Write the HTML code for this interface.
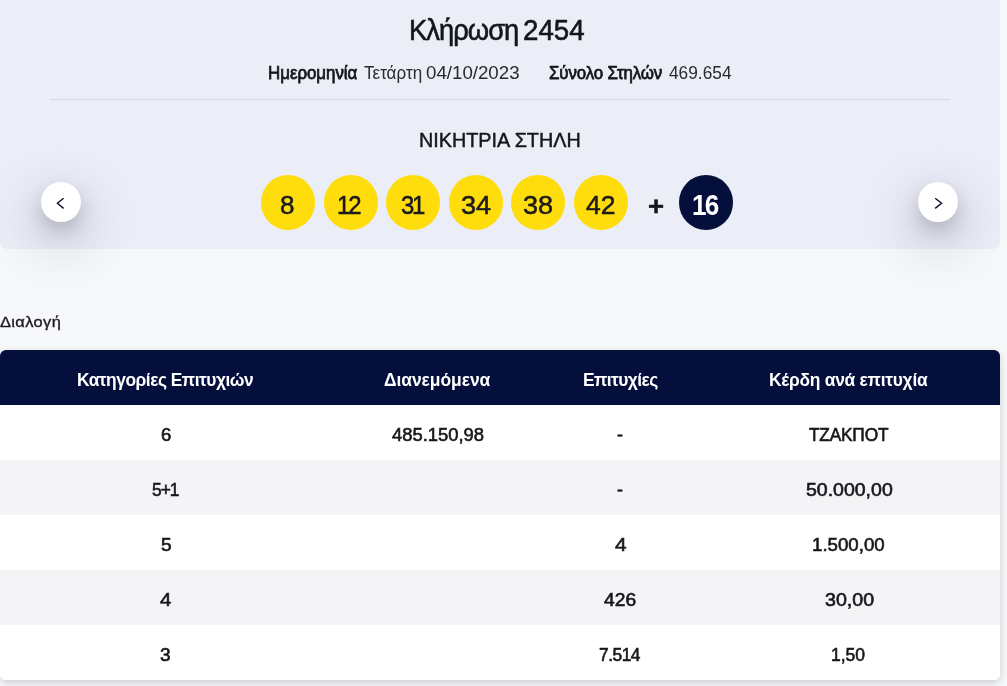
<!DOCTYPE html>
<html lang="el">
<head>
<meta charset="utf-8">
<title>Κλήρωση 2454</title>
<style>
*{box-sizing:border-box;margin:0;padding:0}
html,body{width:1007px;height:686px;overflow:hidden}
body{background:#f7f8fa;font-family:"Liberation Sans",sans-serif;color:#1b1b1f;position:relative}
.t{position:absolute;white-space:pre;transform-origin:0 0;font-weight:400;display:block}
.card{position:absolute;left:0;top:-12px;width:1000px;height:261px;background:#ebeef7;border-radius:6px}
.hr{position:absolute;left:50px;width:900px;top:99px;height:1px;background:#d3d7e2}
.ball{position:absolute;top:175.2px;width:54px;height:54.4px;border-radius:50%;background:#ffdc0c}
.ball.dark{background:#040f3b;left:679px}
.plus{position:absolute;left:648.7px;top:199px;width:14.6px;height:14.4px}
.plus:before{content:"";position:absolute;left:0;top:5.8px;width:14.6px;height:2.8px;background:#15151a}
.plus:after{content:"";position:absolute;left:5.9px;top:0;width:2.8px;height:14.4px;background:#15151a}
.nav{position:absolute;top:182px;width:40px;height:40px;border-radius:50%;background:#fff;box-shadow:0 10px 18px rgba(14,18,44,.18), 0 18px 56px rgba(14,18,44,.32)}
.nav svg{position:absolute;left:0;top:0}
.tbl{position:absolute;left:0;top:350px;width:1000px;height:330px;border-radius:6px;overflow:hidden;background:#fff}
.tblsh{position:absolute;left:0;top:350px;width:1000px;height:330px;border-radius:6px;box-shadow:0 3px 9px rgba(0,0,0,.17)}
.row{height:55px;width:1000px;background:#fff}
.row.alt{background:#f4f4f6}
.row.head{background:#040f3b}
</style>
</head>
<body>
<div class="card"></div>
<h1><span class="t" style="left:408.86px;top:16.4px;font-size:29px;line-height:29px;color:#15151a;transform:scaleX(0.9406);letter-spacing:-0.99px;-webkit-text-stroke:0.6px #15151a">Κλήρωση</span>
<span class="t" style="left:523.37px;top:16.4px;font-size:29px;line-height:29px;color:#15151a;transform:scaleX(0.9543);-webkit-text-stroke:0.6px #15151a">2454</span></h1>
<div class="meta"><span class="t" style="left:267.72px;top:64.0px;font-size:18.0px;line-height:18.0px;color:#15151a;transform:scaleX(0.9382);letter-spacing:-0.02px;-webkit-text-stroke:0.75px #15151a">Ημερομηνία</span>
<span class="t" style="left:363.9px;top:64.0px;font-size:18.0px;line-height:18.0px;color:#2a2a30;transform:scaleX(0.9466)">Τετάρτη</span>
<span class="t" style="left:426.06px;top:64.13px;font-size:18.0px;line-height:18.0px;color:#2a2a30;transform:scaleX(1.0386)">04/10/2023</span>
<span class="t" style="left:548.84px;top:64.0px;font-size:18.0px;line-height:18.0px;color:#15151a;transform:scaleX(0.9363);letter-spacing:-0.13px;-webkit-text-stroke:0.75px #15151a">Σύνολο Στηλών</span>
<span class="t" style="left:668.6px;top:64.13px;font-size:18.0px;line-height:18.0px;color:#2a2a30;transform:scaleX(0.9608)">469.654</span></div>
<div class="hr"></div>
<h2><span class="t" style="left:418.87px;top:129.2px;font-size:21.0px;line-height:21.0px;color:#15151a;transform:scaleX(0.942);-webkit-text-stroke:0.45px #15151a">ΝΙΚΗΤΡΙΑ ΣΤΗΛΗ</span></h2>
<div class="balls">
<div class="ball" style="left:261.2px"></div><div class="ball" style="left:323.75px"></div><div class="ball" style="left:386.3px"></div><div class="ball" style="left:448.85px"></div><div class="ball" style="left:511.4px"></div><div class="ball" style="left:573.95px"></div>
<div class="ball dark"></div>
<span class="t" style="left:280.34px;top:191.83px;font-size:26px;line-height:26px;color:#1b1b1f;transform:scaleX(1.0025);-webkit-text-stroke:0.55px #1b1b1f">8</span>
<span class="t" style="left:337.18px;top:191.8px;font-size:26px;line-height:26px;color:#1b1b1f;transform:scaleX(0.92);letter-spacing:-2.2px;-webkit-text-stroke:0.55px #1b1b1f">12</span>
<span class="t" style="left:400.63px;top:191.82px;font-size:26px;line-height:26px;color:#1b1b1f;transform:scaleX(0.92);letter-spacing:-2.6px;-webkit-text-stroke:0.55px #1b1b1f">31</span>
<span class="t" style="left:460.61px;top:191.82px;font-size:26px;line-height:26px;color:#1b1b1f;transform:scaleX(1.0417);-webkit-text-stroke:0.55px #1b1b1f">34</span>
<span class="t" style="left:523.21px;top:191.82px;font-size:26px;line-height:26px;color:#1b1b1f;transform:scaleX(1.0412);-webkit-text-stroke:0.55px #1b1b1f">38</span>
<span class="t" style="left:586.07px;top:191.8px;font-size:26px;line-height:26px;color:#1b1b1f;transform:scaleX(1.0178);-webkit-text-stroke:0.55px #1b1b1f">42</span>
<span class="t" style="left:647.61px;top:192.5px;font-size:26px;line-height:26px;color:#15151a;transform:scaleX(1.0585);font-weight:700;-webkit-text-stroke:0.5px #15151a">+</span>
<span class="t" style="left:692.35px;top:190.83px;font-size:29px;line-height:29px;color:#ffffff;transform:scaleX(0.9);font-weight:700;letter-spacing:-2.0px">16</span>
</div>
<div class="nav" style="left:41px"><svg width="40" height="40" viewBox="0 0 40 40"><path d="M22.6 16.2 L16.4 21.3 L22.6 26.4" fill="none" stroke="#0b1030" stroke-width="1.4"/></svg></div>
<div class="nav" style="left:918px"><svg width="40" height="40" viewBox="0 0 40 40"><path d="M17.2 16.2 L23.6 21.3 L17.2 26.4" fill="none" stroke="#0b1030" stroke-width="1.4"/></svg></div>
<span class="t" style="left:0.15px;top:313.6px;font-size:15.5px;line-height:15.5px;color:#1b1b1f;transform:scaleX(1.0606);letter-spacing:0.34px;-webkit-text-stroke:0.35px #1b1b1f">Διαλογή</span>
<div class="tblsh"></div>
<div class="tbl">
<div class="row head"></div><div class="row"></div><div class="row alt"></div><div class="row"></div><div class="row alt"></div><div class="row"></div>
</div>
<div class="thead"><span class="t" style="left:77.04px;top:370.6px;font-size:18.5px;line-height:18.5px;color:#ffffff;transform:scaleX(0.938);font-weight:700;letter-spacing:-0.51px">Κατηγορίες Επιτυχιών</span>
<span class="t" style="left:383.86px;top:370.6px;font-size:18.5px;line-height:18.5px;color:#ffffff;transform:scaleX(0.9432);font-weight:700;letter-spacing:-0.06px">Διανεμόμενα</span>
<span class="t" style="left:582.94px;top:370.6px;font-size:18.5px;line-height:18.5px;color:#ffffff;transform:scaleX(0.9413);font-weight:700;letter-spacing:-0.61px">Επιτυχίες</span>
<span class="t" style="left:769.34px;top:370.6px;font-size:18.5px;line-height:18.5px;color:#ffffff;transform:scaleX(0.9417);font-weight:700;letter-spacing:-0.28px">Κέρδη ανά επιτυχία</span></div>
<div class="tbody">
<span class="t" style="left:160.5px;top:425.74px;font-size:18.5px;line-height:18.5px;color:#17171b;transform:scaleX(1.0024);-webkit-text-stroke:0.6px #17171b">6</span>
<span class="t" style="left:391.91px;top:425.74px;font-size:18.5px;line-height:18.5px;color:#17171b;transform:scaleX(0.993);-webkit-text-stroke:0.6px #17171b">485.150,98</span>
<span class="t" style="left:617.29px;top:425.74px;font-size:18.5px;line-height:18.5px;color:#17171b;transform:scaleX(0.9572);-webkit-text-stroke:0.6px #17171b">-</span>
<span class="t" style="left:808.73px;top:425.7px;font-size:18.5px;line-height:18.5px;color:#17171b;transform:scaleX(0.9363);letter-spacing:-0.24px;-webkit-text-stroke:0.6px #17171b">ΤΖΑΚΠΟΤ</span>
<span class="t" style="left:152.23px;top:480.74px;font-size:18.5px;line-height:18.5px;color:#17171b;transform:scaleX(0.9373);letter-spacing:-1.04px;-webkit-text-stroke:0.6px #17171b">5+1</span>
<span class="t" style="left:617.29px;top:480.74px;font-size:18.5px;line-height:18.5px;color:#17171b;transform:scaleX(0.9572);-webkit-text-stroke:0.6px #17171b">-</span>
<span class="t" style="left:805.7px;top:480.74px;font-size:18.5px;line-height:18.5px;color:#17171b;transform:scaleX(1.0537);-webkit-text-stroke:0.6px #17171b">50.000,00</span>
<span class="t" style="left:160.51px;top:535.74px;font-size:18.5px;line-height:18.5px;color:#17171b;transform:scaleX(1.0312);-webkit-text-stroke:0.6px #17171b">5</span>
<span class="t" style="left:614.6px;top:535.74px;font-size:18.5px;line-height:18.5px;color:#17171b;transform:scaleX(1.1252);-webkit-text-stroke:0.6px #17171b">4</span>
<span class="t" style="left:812.02px;top:535.74px;font-size:18.5px;line-height:18.5px;color:#17171b;transform:scaleX(1.0102);-webkit-text-stroke:0.6px #17171b">1.500,00</span>
<span class="t" style="left:160.2px;top:590.74px;font-size:18.5px;line-height:18.5px;color:#17171b;transform:scaleX(1.1049);-webkit-text-stroke:0.6px #17171b">4</span>
<span class="t" style="left:604.21px;top:590.74px;font-size:18.5px;line-height:18.5px;color:#17171b;transform:scaleX(1.0409);-webkit-text-stroke:0.6px #17171b">426</span>
<span class="t" style="left:824.58px;top:590.74px;font-size:18.5px;line-height:18.5px;color:#17171b;transform:scaleX(1.0592);-webkit-text-stroke:0.6px #17171b">30,00</span>
<span class="t" style="left:160.49px;top:645.74px;font-size:18.5px;line-height:18.5px;color:#17171b;transform:scaleX(1.0338);-webkit-text-stroke:0.6px #17171b">3</span>
<span class="t" style="left:598.76px;top:645.74px;font-size:18.5px;line-height:18.5px;color:#17171b;transform:scaleX(0.9382);letter-spacing:-0.52px;-webkit-text-stroke:0.6px #17171b">7.514</span>
<span class="t" style="left:831.39px;top:645.74px;font-size:18.5px;line-height:18.5px;color:#17171b;transform:scaleX(0.946);-webkit-text-stroke:0.6px #17171b">1,50</span>
</div>
</body>
</html>
